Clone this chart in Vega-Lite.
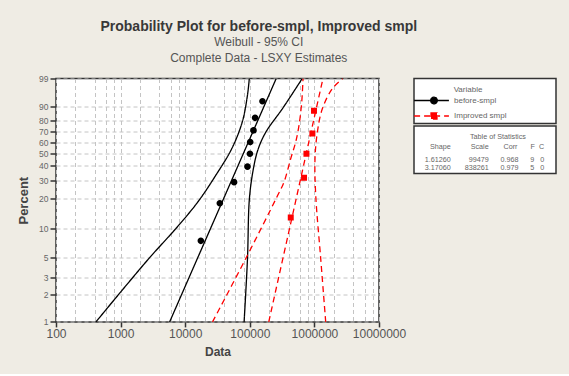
{
  "$schema": "https://vega.github.io/schema/vega-lite/v6.json",
  "background": "#EFECE4",
  "padding": {"left": 16, "top": 19.5, "right": 13, "bottom": 14},
  "title": {
    "text": "Probability Plot for before-smpl, Improved smpl",
    "subtitle": ["Weibull - 95% CI", "Complete Data - LSXY Estimates"],
    "anchor": "middle",
    "dx": -28,
    "offset": 10,
    "font": "Liberation Sans",
    "fontSize": 14,
    "fontWeight": "bold",
    "color": "#383838",
    "subtitleFont": "Liberation Sans",
    "subtitleFontSize": 12,
    "subtitleColor": "#555555",
    "subtitlePadding": 3.5,
    "subtitleLineHeight": 15.5
  },
  "datasets": {
    "points": [
      {"series": "before-smpl", "data": 17470, "pct": 7.4468},
      {"series": "before-smpl", "data": 34360, "pct": 18.0851},
      {"series": "before-smpl", "data": 57150, "pct": 28.7234},
      {"series": "before-smpl", "data": 92100, "pct": 39.3617},
      {"series": "before-smpl", "data": 100500, "pct": 50.0},
      {"series": "before-smpl", "data": 101500, "pct": 60.6383},
      {"series": "before-smpl", "data": 114000, "pct": 71.2766},
      {"series": "before-smpl", "data": 120700, "pct": 81.9149},
      {"series": "before-smpl", "data": 157100, "pct": 92.5532},
      {"series": "Improved smpl", "data": 430500, "pct": 12.963},
      {"series": "Improved smpl", "data": 691000, "pct": 31.481},
      {"series": "Improved smpl", "data": 753000, "pct": 50.0},
      {"series": "Improved smpl", "data": 931000, "pct": 68.519},
      {"series": "Improved smpl", "data": 986000, "pct": 87.037}
    ],
    "fits": [
      {"series": "before-smpl", "data": 5741, "pct": 1},
      {"series": "before-smpl", "data": 256400, "pct": 99},
      {"series": "Improved smpl", "data": 196500, "pct": 1},
      {"series": "Improved smpl", "data": 1357000, "pct": 99}
    ],
    "bounds": [
      {"series": "before-smpl", "bound": "lower", "data": 415, "pct": 1},
      {"series": "before-smpl", "bound": "lower", "data": 2742, "pct": 4.84},
      {"series": "before-smpl", "bound": "lower", "data": 7172, "pct": 10.0},
      {"series": "before-smpl", "bound": "lower", "data": 15690, "pct": 18.6},
      {"series": "before-smpl", "bound": "lower", "data": 29800, "pct": 33.2},
      {"series": "before-smpl", "bound": "lower", "data": 52660, "pct": 54.6},
      {"series": "before-smpl", "bound": "lower", "data": 76540, "pct": 78.7},
      {"series": "before-smpl", "bound": "lower", "data": 92100, "pct": 95.2},
      {"series": "before-smpl", "bound": "lower", "data": 98200, "pct": 99},
      {"series": "before-smpl", "bound": "upper", "data": 81620, "pct": 1},
      {"series": "before-smpl", "bound": "upper", "data": 92100, "pct": 4.84},
      {"series": "before-smpl", "bound": "upper", "data": 98200, "pct": 19.4},
      {"series": "before-smpl", "bound": "upper", "data": 111200, "pct": 35.3},
      {"series": "before-smpl", "bound": "upper", "data": 132900, "pct": 53.1},
      {"series": "before-smpl", "bound": "upper", "data": 176700, "pct": 69.6},
      {"series": "before-smpl", "bound": "upper", "data": 323700, "pct": 88.7},
      {"series": "before-smpl", "bound": "upper", "data": 648100, "pct": 99},
      {"series": "Improved smpl", "bound": "lower", "data": 26490, "pct": 1},
      {"series": "Improved smpl", "bound": "lower", "data": 86700, "pct": 4.84},
      {"series": "Improved smpl", "bound": "lower", "data": 261500, "pct": 20.7},
      {"series": "Improved smpl", "bound": "lower", "data": 339100, "pct": 28.9},
      {"series": "Improved smpl", "bound": "lower", "data": 430500, "pct": 45.9},
      {"series": "Improved smpl", "bound": "lower", "data": 514100, "pct": 60.7},
      {"series": "Improved smpl", "bound": "lower", "data": 578300, "pct": 75.9},
      {"series": "Improved smpl", "bound": "lower", "data": 636800, "pct": 92.2},
      {"series": "Improved smpl", "bound": "lower", "data": 666800, "pct": 99},
      {"series": "Improved smpl", "bound": "upper", "data": 1496000, "pct": 1},
      {"series": "Improved smpl", "bound": "upper", "data": 1252000, "pct": 4.84},
      {"series": "Improved smpl", "bound": "upper", "data": 1048000, "pct": 21.7},
      {"series": "Improved smpl", "bound": "upper", "data": 1022000, "pct": 45.9},
      {"series": "Improved smpl", "bound": "upper", "data": 1113000, "pct": 69.9},
      {"series": "Improved smpl", "bound": "upper", "data": 1331000, "pct": 88.5},
      {"series": "Improved smpl", "bound": "upper", "data": 1900000, "pct": 97.2},
      {"series": "Improved smpl", "bound": "upper", "data": 2742000, "pct": 99}
    ],
    "stats": [
      {"series": "before-smpl", "Shape": 1.6126, "Scale": 99479, "Corr": 0.968, "F": 9, "C": 0},
      {"series": "Improved smpl", "Shape": 3.1706, "Scale": 838261, "Corr": 0.979, "F": 5, "C": 0}
    ]
  },
  "bounds": "flush",
  "spacing": 35,
  "hconcat": [
    {
      "width": 323,
      "height": 243.4,
      "view": {"fill": "white", "stroke": "#333333", "strokeWidth": 1.5},
      "encoding": {
        "x": {
          "field": "data",
          "type": "quantitative",
          "scale": {"type": "log", "domain": [100, 10000000], "nice": false},
          "axis": {
            "values": [100, 200, 400, 600, 800, 1000, 2000, 4000, 6000, 8000, 10000, 20000, 40000, 60000, 80000, 100000, 200000, 400000, 600000, 800000, 1000000, 2000000, 4000000, 6000000, 8000000, 10000000],
            "labelExpr": "indexof([100, 1000, 10000, 100000, 1000000, 10000000], datum.value) >= 0 ? '' + datum.value : ''",
            "tickOpacity": {"condition": {"test": "indexof([100, 1000, 10000, 100000, 1000000, 10000000], datum.value) >= 0", "value": 1}, "value": 0},
            "grid": true,
            "gridDash": [4, 3],
            "gridColor": "#C4C4C4",
            "gridWidth": 1,
            "domain": false,
            "tickSize": 5,
            "tickColor": "#333333",
            "tickWidth": 1.5,
            "labelFont": "Liberation Sans",
            "labelFontSize": 12,
            "labelColor": "#555555",
            "labelPadding": 2,
            "labelOverlap": false,
            "labelFlush": false,
            "title": "Data",
            "titleFont": "Liberation Sans",
            "titleFontSize": 12,
            "titleFontWeight": "bold",
            "titleColor": "#444444",
            "titlePadding": 7
          }
        },
        "y": {
          "field": "wb",
          "type": "quantitative",
          "scale": {"domain": [-4.60015, 1.52718], "nice": false, "zero": false},
          "axis": {
            "values": [-4.60015, -3.90194, -3.49137, -2.9702, -2.25037, -1.49994, -1.03093, -0.67173, -0.36651, -0.08742, 0.18563, 0.47588, 0.83403, 1.52718],
            "labelExpr": "format(100 * (1 - exp(-exp(datum.value))), '.0f')",
            "grid": true,
            "gridDash": [4, 3],
            "gridColor": "#C4C4C4",
            "gridWidth": 1,
            "domain": false,
            "tickSize": 6,
            "tickColor": "#333333",
            "tickWidth": 1.5,
            "labelFont": "Liberation Sans",
            "labelFontSize": 8.5,
            "labelColor": "#666666",
            "labelPadding": 2,
            "labelOverlap": false,
            "labelFlush": false,
            "title": "Percent",
            "titleFont": "Liberation Sans",
            "titleFontSize": 13,
            "titleFontWeight": "bold",
            "titleColor": "#444444",
            "titlePadding": 8
          }
        },
        "color": {
          "field": "series",
          "type": "nominal",
          "scale": {"domain": ["before-smpl", "Improved smpl"], "range": ["#000000", "#FF0000"]},
          "legend": {
            "orient": "none",
            "legendX": 374,
            "legendY": 7,
            "zindex": 1,
            "title": "Variable",
            "titleFont": "Liberation Sans",
            "titleFontSize": 8,
            "titleFontWeight": "normal",
            "titleColor": "#666666",
            "titleAnchor": "middle",
            "titlePadding": 3,
            "labelFont": "Liberation Sans",
            "labelFontSize": 8,
            "labelColor": "#666666",
            "labelOffset": 16,
            "symbolSize": 44,
            "symbolStrokeWidth": 1.3,
            "rowPadding": 3.5,
            "padding": 0
          }
        },
        "strokeDash": {
          "field": "series",
          "type": "nominal",
          "scale": {"domain": ["before-smpl", "Improved smpl"], "range": [[1, 0], [6, 4]]}
        }
      },
      "layer": [
        {
          "data": {"name": "bounds"},
          "transform": [{"calculate": "log(-log(1 - datum.pct / 100))", "as": "wb"}],
          "mark": {"type": "line", "strokeWidth": 1.3, "interpolate": "catmull-rom", "clip": true},
          "encoding": {
            "detail": {"field": "bound"},
            "order": {"field": "pct", "type": "quantitative"}
          }
        },
        {
          "data": {"name": "fits"},
          "transform": [{"calculate": "log(-log(1 - datum.pct / 100))", "as": "wb"}],
          "mark": {"type": "line", "strokeWidth": 1.3, "clip": true},
          "encoding": {
            "order": {"field": "pct", "type": "quantitative"}
          }
        },
        {
          "data": {"name": "points"},
          "transform": [{"calculate": "log(-log(1 - datum.pct / 100))", "as": "wb"}],
          "mark": {"type": "point", "filled": true, "opacity": 1, "size": 44},
          "encoding": {
            "shape": {
              "field": "series",
              "type": "nominal",
              "scale": {
                "domain": ["before-smpl", "Improved smpl"],
                "range": [
                  "M-6,0H4.5M1,0A1,1 0 1 1 -1,0A1,1 0 1 1 1,0Z",
                  "M-6,0H4.5M-0.9,-0.9H0.9V0.9H-0.9Z"
                ]
              },
              "legend": null
            },
            "strokeDash": {"value": [1, 0]}
          }
        }
      ]
    },
    {
      "bounds": "flush",
      "spacing": 2.5,
      "vconcat": [
        {
          "width": 142,
          "height": 45,
          "view": {"fill": "white", "stroke": "#333333", "strokeWidth": 1.5},
          "data": {"values": []},
          "mark": "point"
        },
        {
          "width": 142,
          "height": 47.5,
          "view": {"fill": "white", "stroke": "#333333", "strokeWidth": 1.5},
          "data": {"name": "stats"},
          "transform": [{"fold": ["Shape", "Scale", "Corr", "F", "C"], "as": ["key", "value"]}],
          "encoding": {
            "x": {
              "field": "key",
              "type": "nominal",
              "sort": ["Shape", "Scale", "Corr", "F", "C"],
              "scale": {"type": "point", "domain": ["Shape", "Scale", "Corr", "F", "C"], "range": [36.7, 130.2], "padding": 0},
              "axis": {
                "orient": "top",
                "offset": -14.5,
                "domain": false,
                "ticks": false,
                "labels": false,
                "grid": false,
                "title": "Table of Statistics",
                "titleFont": "Liberation Sans",
                "titleFontSize": 7.2,
                "titleFontWeight": "normal",
                "titleColor": "#666666",
                "titlePadding": 0
              }
            },
            "y": {
              "field": "series",
              "type": "nominal",
              "scale": {"type": "point", "domain": ["before-smpl", "Improved smpl"], "range": [34, 42.3], "padding": 0},
              "axis": null
            }
          },
          "layer": [
            {
              "mark": {
                "type": "text",
                "align": "right",
                "font": "Liberation Sans",
                "fontSize": 7.2,
                "color": "#666666",
                "dx": {"expr": "datum.key === 'Scale' ? 14.6 : datum.key === 'Corr' ? 21 : datum.key === 'F' ? 13.5 : 0"}
              },
              "encoding": {
                "text": {
                  "condition": {"test": "datum.key === 'Shape'", "field": "value", "type": "quantitative", "format": ".5f"},
                  "field": "value",
                  "type": "nominal"
                }
              }
            },
            {
              "transform": [{"aggregate": [{"op": "count", "as": "n"}], "groupby": ["key"]}],
              "mark": {
                "type": "text",
                "align": "right",
                "font": "Liberation Sans",
                "fontSize": 7.2,
                "color": "#666666",
                "dy": -13.4,
                "dx": {"expr": "datum.key === 'Scale' ? 14.6 : datum.key === 'Corr' ? 20 : datum.key === 'F' ? 14 : 0"}
              },
              "encoding": {
                "y": {"datum": "before-smpl"},
                "text": {"field": "key", "type": "nominal"}
              }
            }
          ]
        }
      ]
    }
  ]
}
